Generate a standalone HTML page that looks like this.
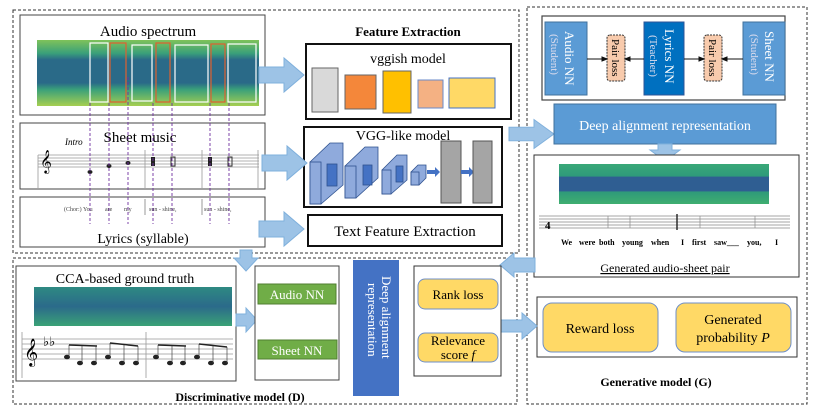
<!DOCTYPE html>
<html><head><meta charset="utf-8"><style>
body{margin:0;background:#fff}
svg{display:block;font-family:"Liberation Serif",serif}
</style></head><body>
<svg width="817" height="414" viewBox="0 0 817 414" xmlns="http://www.w3.org/2000/svg">
<defs>
<linearGradient id="spec" x1="0" y1="0" x2="0" y2="1">
<stop offset="0" stop-color="#7fc25a"/><stop offset="0.2" stop-color="#3aa07a"/><stop offset="0.3" stop-color="#2a6a88"/><stop offset="0.65" stop-color="#2a6a88"/><stop offset="0.75" stop-color="#3aa07a"/><stop offset="1" stop-color="#a6cf50"/>
</linearGradient>
<linearGradient id="spec2" x1="0" y1="0" x2="0" y2="1">
<stop offset="0" stop-color="#39a878"/><stop offset="0.3" stop-color="#2f9a7a"/><stop offset="0.33" stop-color="#2f5e92"/><stop offset="0.67" stop-color="#2f5e92"/><stop offset="0.7" stop-color="#2f9a7a"/><stop offset="1" stop-color="#3fae70"/>
</linearGradient>
<linearGradient id="spec3" x1="0" y1="0" x2="0" y2="1">
<stop offset="0" stop-color="#2e8a82"/><stop offset="0.5" stop-color="#2b6a8a"/><stop offset="1" stop-color="#3aa277"/>
</linearGradient>
<g id="arR"><polygon points="0,-8 25,-8 25,-17 45,0 25,17 25,8 0,8" fill="#9dc3e6" stroke="#7fb0dc" stroke-width="1"/></g>
</defs>

<rect x="13" y="10" width="506" height="243" fill="none" stroke="#333" stroke-dasharray="3,2"/>
<rect x="13" y="258" width="504" height="146" fill="none" stroke="#333" stroke-dasharray="3,2"/>
<rect x="527" y="7" width="280" height="397" fill="none" stroke="#333" stroke-dasharray="3,2"/>

<rect x="20" y="15" width="245" height="100" fill="#fff" stroke="#444"/>
<text x="148" y="36" font-size="15" text-anchor="middle">Audio spectrum</text>
<rect x="37" y="40" width="222" height="66" fill="url(#spec)"/>
<g fill="none" stroke-width="1.2">
<rect x="90" y="43" width="18" height="59" stroke="#fff"/>
<rect x="110" y="43" width="16" height="59" stroke="#e06030"/>
<rect x="132" y="45" width="20" height="56" stroke="#fff"/>
<rect x="156" y="43" width="14" height="59" stroke="#e06030"/>
<rect x="175" y="45" width="33" height="57" stroke="#fff"/>
<rect x="211" y="44" width="14" height="58" stroke="#e06030"/>
<rect x="228" y="44" width="28" height="58" stroke="#fff"/>
</g>

<rect x="20" y="123" width="245" height="66" fill="#fff" stroke="#444"/>
<text x="65" y="145" font-size="9" font-style="italic">Intro</text>
<text x="140" y="142" font-size="15" text-anchor="middle">Sheet music</text>
<g stroke="#999" stroke-width="0.8">
<line x1="38" y1="155" x2="259" y2="155"/><line x1="38" y1="158" x2="259" y2="158"/><line x1="38" y1="161" x2="259" y2="161"/><line x1="38" y1="164" x2="259" y2="164"/><line x1="38" y1="167" x2="259" y2="167"/>
<line x1="38" y1="155" x2="38" y2="188"/><line x1="145" y1="150" x2="145" y2="188"/><line x1="202" y1="150" x2="202" y2="188"/><line x1="258" y1="150" x2="258" y2="188"/>
</g>
<text x="40" y="168" font-size="20">𝄞</text>
<g fill="#222"><ellipse cx="90" cy="172" rx="2.5" ry="2"/><ellipse cx="109" cy="166" rx="2.5" ry="2"/><ellipse cx="128" cy="163" rx="2.5" ry="2"/>
<rect x="151" y="157" width="4" height="9"/><rect x="208" y="157" width="4" height="9"/></g>
<g fill="none" stroke="#333"><rect x="171" y="157" width="4" height="9"/><rect x="228" y="157" width="4" height="9"/></g>

<rect x="20" y="197" width="245" height="50" fill="#fff" stroke="#444"/>
<g font-size="6" fill="#444">
<text x="64" y="211">(Chor:) You</text><text x="105" y="211">are</text><text x="124" y="211">my</text>
<text x="149" y="211">sun - shine,</text><text x="204" y="211">sun - shine,</text>
</g>
<line x1="145" y1="199" x2="145" y2="215" stroke="#999"/><line x1="202" y1="199" x2="202" y2="215" stroke="#999"/>
<text x="143" y="243" font-size="14" text-anchor="middle">Lyrics (syllable)</text>

<g stroke="#7030a0" stroke-dasharray="3,2" stroke-width="0.9">
<line x1="90" y1="103" x2="90" y2="224"/><line x1="109" y1="103" x2="109" y2="224"/><line x1="128" y1="77" x2="128" y2="224"/><line x1="153" y1="103" x2="153" y2="224"/><line x1="172" y1="103" x2="172" y2="224"/><line x1="210" y1="103" x2="210" y2="224"/><line x1="229" y1="103" x2="229" y2="224"/>
</g>

<text x="408" y="36" font-size="13" font-weight="bold" text-anchor="middle">Feature Extraction</text>
<rect x="306" y="44" width="205" height="75" fill="#fff" stroke="#111" stroke-width="2"/>
<text x="408" y="63" font-size="14" text-anchor="middle">vggish model</text>
<rect x="312" y="68" width="26" height="44" fill="#d9d9d9" stroke="#666"/>
<rect x="345" y="75" width="31" height="34" fill="#f4873a" stroke="#666"/>
<rect x="383" y="71" width="28" height="42" fill="#ffc000" stroke="#666"/>
<rect x="418" y="80" width="25" height="28" fill="#f4b183" stroke="#6a8ac8"/>
<rect x="449" y="78" width="46" height="30" fill="#ffd966" stroke="#4472c4"/>

<rect x="304" y="127" width="198" height="80" fill="#fff" stroke="#111" stroke-width="2"/>
<text x="403" y="140" font-size="14" text-anchor="middle">VGG-like model</text>
<g stroke="#2f528f" stroke-width="0.8">
<polygon points="310,162 330,143 343,143 343,185 321,204 310,204" fill="#8faadc"/>
<rect x="310" y="162" width="11" height="42" fill="#8faadc"/><rect x="327" y="164" width="10" height="22" fill="#4472c4"/>
<polygon points="345,166 365,147 378,147 378,178 356,198 345,198" fill="#8faadc"/>
<rect x="345" y="166" width="11" height="32" fill="#8faadc"/><rect x="363" y="165" width="9" height="20" fill="#4472c4"/>
<polygon points="382,170 397,155 407,155 407,180 391,194 382,194" fill="#8faadc"/>
<rect x="382" y="170" width="9" height="24" fill="#8faadc"/><rect x="396" y="166" width="7" height="16" fill="#4472c4"/>
<polygon points="411,172 418,165 426,165 426,178 419,185 411,185" fill="#8faadc"/>
<rect x="411" y="172" width="8" height="13" fill="#8faadc"/>
</g>
<polygon points="427,170 435,170 435,167 440,172 435,177 435,174 427,174" fill="#4472c4"/>
<rect x="441" y="141" width="20" height="62" fill="#a5a5a5" stroke="#555"/>
<polygon points="461,170 469,170 469,167 474,172 469,177 469,174 461,174" fill="#4472c4"/>
<rect x="473" y="141" width="19" height="62" fill="#a5a5a5" stroke="#555"/>

<rect x="308" y="215" width="194" height="31" fill="#fff" stroke="#111" stroke-width="2"/>
<text x="405" y="236" font-size="15" text-anchor="middle">Text Feature Extraction</text>

<use href="#arR" transform="translate(259,75)"/>
<use href="#arR" transform="translate(262,163)"/>
<use href="#arR" transform="translate(259,229)"/>
<use href="#arR" transform="translate(509,134) scale(1,0.85)"/>
<polygon points="240,250 252,250 252,258 258,258 246,271 234,258 240,258" fill="#9dc3e6" stroke="#7fb0dc"/>

<rect x="542" y="16" width="243" height="84" fill="#fff" stroke="#444" stroke-width="1.2"/>
<rect x="545" y="22" width="42" height="73" fill="#5b9bd5" stroke="#41719c"/>
<text transform="translate(565,31) rotate(90)" font-size="13" fill="#fff">Audio NN</text>
<text transform="translate(551,34) rotate(90)" font-size="11" fill="#dde">(Student)</text>
<rect x="607" y="35" width="18" height="46" rx="3" fill="#f8cbad" stroke="#333" stroke-dasharray="2,1"/>
<text transform="translate(612,39) rotate(90)" font-size="11">Pair loss</text>
<rect x="644" y="22" width="40" height="73" fill="#0070c0" stroke="#2e5597"/>
<text transform="translate(665,29) rotate(90)" font-size="13" fill="#fff">Lyrics NN</text>
<text transform="translate(650,35) rotate(90)" font-size="11" fill="#dde">(Teacher)</text>
<rect x="704" y="35" width="18" height="46" rx="3" fill="#f8cbad" stroke="#333" stroke-dasharray="2,1"/>
<text transform="translate(709,39) rotate(90)" font-size="11">Pair loss</text>
<rect x="743" y="22" width="42" height="73" fill="#5b9bd5" stroke="#41719c"/>
<text transform="translate(765,31) rotate(90)" font-size="13" fill="#fff">Sheet NN</text>
<text transform="translate(751,34) rotate(90)" font-size="11" fill="#dde">(Student)</text>
<g stroke="#111" stroke-width="1">
<line x1="587" y1="59" x2="604" y2="59"/><polygon points="607,59 602,57 602,61" fill="#111"/>
<line x1="644" y1="59" x2="628" y2="59"/><polygon points="625,59 630,57 630,61" fill="#111"/>
<line x1="684" y1="59" x2="701" y2="59"/><polygon points="704,59 699,57 699,61" fill="#111"/>
<line x1="743" y1="59" x2="725" y2="59"/><polygon points="722,59 727,57 727,61" fill="#111"/>
</g>

<rect x="554" y="104" width="222" height="40" fill="#5b9bd5" stroke="#41719c"/>
<text x="665" y="130" font-size="14" fill="#fff" text-anchor="middle">Deep alignment representation</text>
<polygon points="658,144 672,144 672,150 680,150 665,161 650,150 658,150" fill="#9dc3e6" stroke="#7fb0dc"/>

<rect x="534" y="155" width="265" height="122" fill="#fff" stroke="#333"/>
<rect x="559" y="164" width="210" height="40" fill="url(#spec2)"/>
<g stroke="#888" stroke-width="0.7">
<line x1="539" y1="216" x2="790" y2="216"/><line x1="539" y1="219" x2="790" y2="219"/><line x1="539" y1="222" x2="790" y2="222"/><line x1="539" y1="225" x2="790" y2="225"/><line x1="539" y1="228" x2="790" y2="228"/>
<line x1="608" y1="216" x2="608" y2="228"/><line x1="630" y1="216" x2="630" y2="228"/><line x1="677" y1="214" x2="677" y2="230" stroke="#222" stroke-width="1.4"/><line x1="700" y1="216" x2="700" y2="228"/><line x1="755" y1="216" x2="755" y2="228"/>
</g>
<text x="545" y="229" font-size="11" font-weight="bold">4</text>
<g font-size="8" font-weight="bold">
<text x="561" y="245">We</text><text x="579" y="245">were</text><text x="599" y="245">both</text><text x="622" y="245">young</text><text x="651" y="245">when</text><text x="681" y="245">I</text><text x="692" y="245">first</text><text x="714" y="245">saw___</text><text x="747" y="245">you,</text><text x="775" y="245">I</text>
</g>
<text x="665" y="272" font-size="12" text-anchor="middle" text-decoration="underline">Generated audio-sheet pair</text>
<polygon points="535,258 514,258 514,253 500,265 514,277 514,272 535,272" fill="#9dc3e6" stroke="#7fb0dc"/>

<rect x="537" y="297" width="260" height="60" fill="#fff" stroke="#333"/>
<rect x="543" y="303" width="115" height="49" rx="9" fill="#ffd966" stroke="#6f8fc8"/>
<text x="600" y="333" font-size="14" text-anchor="middle">Reward loss</text>
<rect x="676" y="303" width="115" height="49" rx="9" fill="#ffd966" stroke="#6f8fc8"/>
<text x="733" y="324" font-size="14" text-anchor="middle">Generated</text>
<text x="733" y="342" font-size="14" text-anchor="middle">probability <tspan font-style="italic">P</tspan></text>
<text x="656" y="386" font-size="12" font-weight="bold" text-anchor="middle">Generative model (G)</text>
<polygon points="500,320 522,320 522,313 537,326 522,339 522,332 500,332" fill="#9dc3e6" stroke="#7fb0dc"/>

<rect x="16" y="266" width="220" height="115" fill="#fff" stroke="#444"/>
<text x="125" y="283" font-size="14" text-anchor="middle">CCA-based ground truth</text>
<rect x="34" y="287" width="198" height="39" fill="url(#spec3)"/>
<g stroke="#999" stroke-width="0.8">
<line x1="22" y1="339" x2="233" y2="339"/><line x1="22" y1="344" x2="233" y2="344"/><line x1="22" y1="349" x2="233" y2="349"/><line x1="22" y1="354" x2="233" y2="354"/><line x1="22" y1="359" x2="233" y2="359"/>
<line x1="22" y1="332" x2="22" y2="378"/><line x1="146" y1="332" x2="146" y2="378"/>
</g>
<text x="24" y="360" font-size="24">𝄞</text>
<text x="43" y="346" font-size="13">♭♭</text>
<g fill="#222">
<ellipse cx="67" cy="357" rx="3" ry="2.3"/><ellipse cx="80" cy="363" rx="3" ry="2.3"/><ellipse cx="94" cy="363" rx="3" ry="2.3"/>
<ellipse cx="108" cy="357" rx="3" ry="2.3"/><ellipse cx="122" cy="363" rx="3" ry="2.3"/><ellipse cx="136" cy="363" rx="3" ry="2.3"/>
<ellipse cx="156" cy="357" rx="3" ry="2.3"/><ellipse cx="170" cy="363" rx="3" ry="2.3"/><ellipse cx="183" cy="363" rx="3" ry="2.3"/>
<ellipse cx="197" cy="357" rx="3" ry="2.3"/><ellipse cx="211" cy="363" rx="3" ry="2.3"/><ellipse cx="225" cy="363" rx="3" ry="2.3"/>
</g>
<g stroke="#444" stroke-width="0.7">
<line x1="69" y1="345" x2="69" y2="357"/><line x1="82" y1="346" x2="82" y2="363"/><line x1="96" y1="346" x2="96" y2="363"/>
<line x1="110" y1="343" x2="110" y2="357"/><line x1="124" y1="345" x2="124" y2="363"/><line x1="138" y1="346" x2="138" y2="363"/>
<line x1="158" y1="345" x2="158" y2="357"/><line x1="172" y1="345" x2="172" y2="363"/><line x1="185" y1="346" x2="185" y2="363"/>
<line x1="199" y1="344" x2="199" y2="357"/><line x1="213" y1="345" x2="213" y2="363"/><line x1="227" y1="347" x2="227" y2="363"/>
</g>
<g stroke="#222" stroke-width="1.5"><line x1="69" y1="345" x2="97" y2="346"/><line x1="110" y1="343" x2="138" y2="346"/><line x1="158" y1="345" x2="186" y2="346"/><line x1="199" y1="344" x2="227" y2="347"/></g>
<polygon points="236,314 246,314 246,308 257,320 246,332 246,326 236,326" fill="#9dc3e6" stroke="#7fb0dc"/>

<rect x="255" y="266" width="84" height="114" fill="#fff" stroke="#444"/>
<rect x="258" y="284" width="78" height="20" fill="#70ad47" stroke="#507e32"/>
<text x="297" y="299" font-size="13" fill="#fff" text-anchor="middle">Audio NN</text>
<rect x="258" y="340" width="79" height="19" fill="#70ad47" stroke="#507e32"/>
<text x="297" y="355" font-size="13" fill="#fff" text-anchor="middle">Sheet NN</text>

<rect x="353" y="260" width="46" height="136" fill="#4472c4"/>
<text transform="translate(382,276) rotate(90)" font-size="13" fill="#fff">Deep alignment</text>
<text transform="translate(368,283) rotate(90)" font-size="13" fill="#fff">representation</text>

<rect x="414" y="266" width="87" height="110" fill="#fff" stroke="#333"/>
<rect x="418" y="279" width="80" height="30" rx="7" fill="#ffd966" stroke="#6f8fc8"/>
<text x="458" y="299" font-size="13" text-anchor="middle">Rank loss</text>
<rect x="418" y="333" width="80" height="29" rx="7" fill="#ffd966" stroke="#6f8fc8"/>
<text x="458" y="345" font-size="13" text-anchor="middle">Relevance</text>
<text x="458" y="359" font-size="13" text-anchor="middle">score <tspan font-style="italic">f</tspan></text>

<text x="240" y="401" font-size="12" font-weight="bold" text-anchor="middle">Discriminative model (D)</text>
</svg>
</body></html>
